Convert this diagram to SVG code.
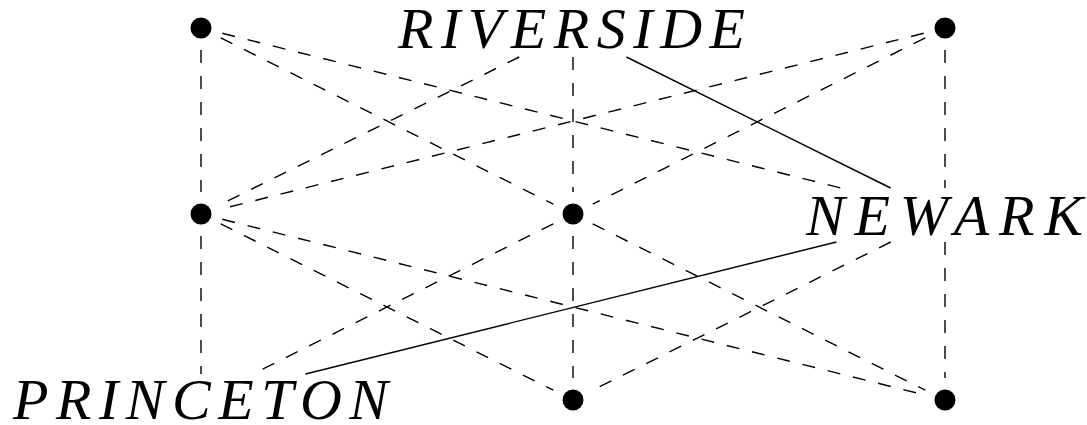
<svg xmlns="http://www.w3.org/2000/svg" width="1087" height="425" viewBox="0 0 1087 425">
<style>
.bg{fill:#fff}
.dot{fill:#000}
.lbl{font-family:"Liberation Serif","Times New Roman",serif;font-style:italic;font-size:58px;fill:#000}
.e{stroke:#000;stroke-width:1.4;fill:none}
.d{stroke-dasharray:13 13}
</style>
<rect class="bg" x="0" y="0" width="1087" height="425"/>
<g id="connectors">
<line class="e d" x1="201" y1="50" x2="201" y2="192"/>
<line class="e d" x1="201" y1="236" x2="201" y2="374"/>
<line class="e d" x1="573" y1="57" x2="573" y2="192"/>
<line class="e d" x1="573" y1="236" x2="573" y2="378"/>
<line class="e d" x1="945" y1="50" x2="945" y2="188"/>
<line class="e d" x1="945" y1="242" x2="945" y2="378"/>
<line class="e d" x1="220.7" y1="37.8" x2="553.3" y2="204.2"/>
<line class="e d" x1="222.3" y1="33.3" x2="841" y2="188"/>
<line class="e d" x1="519.3" y1="57" x2="220.7" y2="204.3"/>
<line class="e" x1="626.4" y1="57" x2="890.6" y2="188"/>
<line class="e d" x1="923.7" y1="33.3" x2="222.3" y2="208.7"/>
<line class="e d" x1="925.3" y1="37.8" x2="592.7" y2="204.2"/>
<line class="e d" x1="220.7" y1="223.8" x2="553.3" y2="390.2"/>
<line class="e d" x1="222.3" y1="219.3" x2="923.7" y2="394.7"/>
<line class="e d" x1="553.3" y1="223.8" x2="253" y2="374"/>
<line class="e d" x1="592.7" y1="223.8" x2="925.3" y2="390.2"/>
<line class="e d" x1="890.7" y1="242" x2="592.7" y2="390.2"/>
<line class="e" x1="836.4" y1="242" x2="305.5" y2="374"/>
</g>
<g id="n-tl"><circle class="dot" cx="201" cy="28" r="10.5"/></g>
<g id="n-riverside"><text class="lbl" x="398" y="48" textLength="347" lengthAdjust="spacing">RIVERSIDE</text></g>
<g id="n-tr"><circle class="dot" cx="945" cy="28" r="10.5"/></g>
<g id="n-ml"><circle class="dot" cx="201" cy="214" r="10.5"/></g>
<g id="n-mm"><circle class="dot" cx="573" cy="214" r="10.5"/></g>
<g id="n-newark"><text class="lbl" x="806" y="235" textLength="277" lengthAdjust="spacing">NEWARK</text></g>
<g id="n-princeton"><text class="lbl" x="13" y="419" textLength="375" lengthAdjust="spacing">PRINCETON</text></g>
<g id="n-bm"><circle class="dot" cx="573" cy="400" r="10.5"/></g>
<g id="n-br"><circle class="dot" cx="945" cy="400" r="10.5"/></g>
</svg>
